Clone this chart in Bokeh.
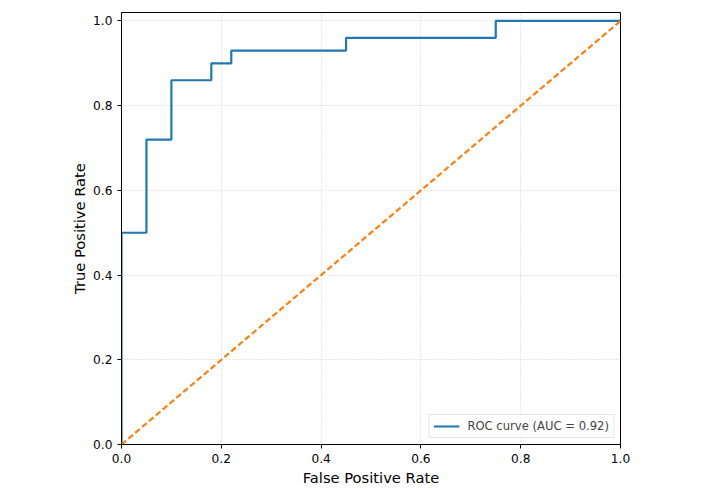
from bokeh.plotting import figure
from bokeh.models import Range1d, PrintfTickFormatter, FixedTicker, Legend, LegendItem
from bokeh.embed import file_html
from bokeh.resources import INLINE

fpr = [0.0, 0.0, 0.05, 0.05, 0.10, 0.10, 0.18, 0.18, 0.22, 0.22, 0.45, 0.45, 0.75, 0.75, 1.0]
tpr = [0.0, 0.50, 0.50, 0.72, 0.72, 0.86, 0.86, 0.90, 0.90, 0.93, 0.93, 0.96, 0.96, 1.0, 1.0]
diag_x = [0.0, 1.0]
diag_y = [0.0, 1.0]
ticks = [0.0, 0.2, 0.4, 0.6, 0.8, 1.0]
roc_label = "ROC curve (AUC = 0.92)"

FONT = "DejaVu Sans"

p = figure(width=690, height=489, output_backend="svg", toolbar_location=None,
           x_range=Range1d(0, 1.0), y_range=Range1d(0, 1.02),
           min_border_left=121, min_border_right=70, min_border_top=12, min_border_bottom=45)

roc = p.line(fpr, tpr, line_color="#1f77b4", line_width=2.2)
p.line(diag_x, diag_y, line_color="#ff7f0e", line_width=2.2, line_dash="6 3")

for ax in (p.xaxis, p.yaxis):
    ax.ticker = FixedTicker(ticks=ticks)
    ax.formatter = PrintfTickFormatter(format="%.1f")
    ax.major_label_text_font = FONT
    ax.major_label_text_font_size = "12.2px"
    ax.major_label_text_color = "#000000"
    ax.axis_label_text_font = FONT
    ax.axis_label_text_font_size = "14.7px"
    ax.axis_label_text_font_style = "normal"
    ax.axis_label_text_color = "#000000"
    ax.major_tick_in = 0
    ax.major_tick_out = 4
    ax.minor_tick_in = 0
    ax.minor_tick_out = 0
    ax.axis_line_color = "#000000"
    ax.major_tick_line_color = "#000000"

p.xaxis.axis_label = "False Positive Rate"
p.yaxis.axis_label = "True Positive Rate"
p.xaxis.major_label_standoff = 5
p.yaxis.major_label_standoff = 5
p.xaxis.axis_label_standoff = 3
p.yaxis.axis_label_standoff = 2

p.grid.grid_line_color = "#b0b0b0"
p.grid.grid_line_alpha = 0.6
p.grid.grid_line_dash = "1 2"

p.outline_line_color = "#000000"
p.outline_line_width = 1
p.background_fill_color = "white"
p.border_fill_color = "white"

legend = Legend(items=[LegendItem(label=roc_label, renderers=[roc])], location="bottom_right")
legend.label_text_font = FONT
legend.label_text_font_size = "11.6px"
legend.border_line_color = "#cccccc"
legend.border_line_width = 1
legend.margin = 6
legend.padding = 4
legend.spacing = 0
legend.glyph_width = 26
legend.glyph_height = 14
legend.label_standoff = 8
legend.background_fill_alpha = 0.8
p.add_layout(legend)

open("out.html", "w").write(file_html(p, INLINE))
